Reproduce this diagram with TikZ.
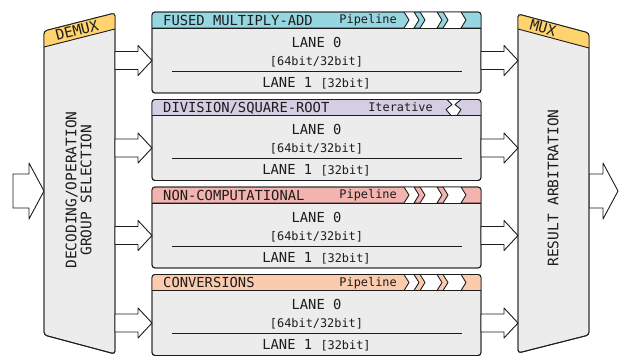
\documentclass[tikz,border=0pt]{standalone}
\usepackage{fontspec}
\setmonofont{DejaVu Sans Mono}
\usetikzlibrary{calc}

\definecolor{fmacol}{HTML}{96D6E0}
\definecolor{divcol}{HTML}{D5CEE3}
\definecolor{ncpcol}{HTML}{F3B3AF}
\definecolor{cvtcol}{HTML}{FCCBAE}
\definecolor{muxcol}{HTML}{FFD46E}
\definecolor{bodycol}{HTML}{ECECEC}
\definecolor{inkcol}{HTML}{1C1C1C}
\newcommand\widthsize{\fontsize{11.9pt}{13pt}\selectfont}

\begin{document}
\begin{tikzpicture}[x=1pt, y=-1pt,
every node/.style={inner sep=0pt, text=inkcol},
outline/.style={draw=inkcol, line width=0.9pt, line join=round},
bigfont/.style={font=\ttfamily\fontsize{14.5pt}{15pt}\selectfont},
titlefont/.style={font=\ttfamily\fontsize{13.8pt}{15pt}\selectfont},
smallfont/.style={font=\ttfamily\widthsize},
blockarr/.style n args={3}{outline, fill=white, to path={
    let \p1=(\tikztostart), \p2=(\tikztotarget) in
    (\x1,\y1+#1) -- (\x2-#3,\y1+#1) -- (\x2-#3,\y1+#2) -- (\x2,\y1)
    -- (\x2-#3,\y1-#2) -- (\x2-#3,\y1-#1) -- (\x1,\y1-#1) -- cycle}},
smallarr/.style={blockarr={9pt}{15pt}{14pt}},
bigarr/.style={blockarr={17pt}{28pt}{15pt}},
pipetail/.pic={
    \path[outline, fill=#1] (140,0) -- (404,0) -- (409,8) -- (404,16) -- (140,16) -- cycle;
    \foreach \cx in {414,437}
        \path[outline, fill=#1] (\cx,0) -- (\cx+6,0) -- (\cx+11,8) -- (\cx+6,16)
            -- (\cx,16) -- (\cx+5,8) -- cycle;
    \path[outline, fill=#1] (461,0) -- (495,0) -- (495,16) -- (461,16) -- (466,8) -- cycle;
    \node[smallfont, anchor=base east] (mode) at (397,11.5) {Pipeline};
},
itertail/.pic={
    \path[outline, fill=#1] (140,0) -- (447,0) -- (452,5) -- (446,10) -- (451,16) -- (140,16) -- cycle;
    \path[outline, fill=#1] (461,0) -- (495,0) -- (495,16) -- (457,16) -- (461,10) -- (455,5) -- cycle;
    \node[smallfont, anchor=base east] (mode) at (433,11.5) {Iterative};
}
]
\useasboundingbox (0,0) rectangle (619,357);

% anchor points of the big blocks
\coordinate (dmx-e) at (115,0);
\coordinate (mux-w) at (518,0);
\coordinate (fpu-in) at (13,191);
\coordinate (dmx-w) at (44,191);
\coordinate (mux-e) at (589,191);
\coordinate (fpu-out) at (618,191);

\draw[bigarr] (fpu-in) to (dmx-w);
\draw[bigarr] (mux-e) to (fpu-out);

% demux
\path[outline, fill=bodycol, rounded corners=3pt] (44,31) -- (115,13) -- (115,354) -- (44,335) -- cycle;
\begin{scope}
    \clip[rounded corners=3pt] (44,31) -- (115,13) -- (115,354) -- (44,335) -- cycle;
    \fill[muxcol] (40,48) -- (120,27.7) -- (120,0) -- (40,0) -- cycle;
\end{scope}
\draw[outline] (44,47) -- (115,29);
\draw[outline, rounded corners=3pt] (44,31) -- (115,13) -- (115,354) -- (44,335) -- cycle;
\node[bigfont, rotate=14] (dmx-title) at (77,30.5) {DEMUX};
\node[bigfont, rotate=90, align=center] (dmx-txt) at (78.5,190) {DECODING/OPERATION\\GROUP SELECTION};

% mux
\path[outline, fill=bodycol, rounded corners=3pt] (518,14) -- (589,33) -- (589,335) -- (518,353) -- cycle;
\begin{scope}
    \clip[rounded corners=3pt] (518,14) -- (589,33) -- (589,335) -- (518,353) -- cycle;
    \fill[muxcol] (514,28) -- (593,49) -- (593,0) -- (514,0) -- cycle;
\end{scope}
\draw[outline] (518,29) -- (589,48);
\draw[outline, rounded corners=3pt] (518,14) -- (589,33) -- (589,335) -- (518,353) -- cycle;
\node[bigfont, rotate=-15] (mux-title) at (543,28) {MUX};
\node[bigfont, rotate=90] (mux-txt) at (553,188) {RESULT ARBITRATION};

% functional units
\foreach \u/\uy/\ucol/\kind/\ttl in {fma/12/fmacol/1/{FUSED MULTIPLY-ADD},
        dsq/99.5/divcol/0/{DIVISION/SQUARE-ROOT},
        ncp/187/ncpcol/1/{NON-COMPUTATIONAL},
        cvt/274.5/cvtcol/1/{CONVERSIONS}}{
    \path[outline, fill=bodycol, rounded corners=3pt] (152,\uy) rectangle (481,\uy+81);
    \begin{scope}
        \clip[rounded corners=3pt] (152,\uy) rectangle (481,\uy+81);
        \fill[white] (152,\uy) rectangle (481,\uy+16);
        \ifnum\kind=1
            \pic (\u-) at (0,\uy) {pipetail=\ucol};
        \else
            \pic (\u-) at (0,\uy) {itertail=\ucol};
        \fi
    \end{scope}
    \draw[outline, rounded corners=3pt] (152,\uy) rectangle (481,\uy+81);
    \draw[outline] (152,\uy+16) -- (481,\uy+16);
    \node[titlefont, anchor=base west] (\u-title) at (163,\uy+13) {\ttl};
    \node[titlefont, anchor=base] (\u-l0) at (316.5,\uy+35) {LANE 0};
    \node[smallfont, anchor=base] (\u-w0) at (316.5,\uy+53) {[64bit/32bit]};
    \draw[draw=inkcol, line width=0.8pt] (172,\uy+59) -- (462,\uy+59);
    \node[titlefont, anchor=base] (\u-l1) at (316.5,\uy+75) {LANE 1 {\widthsize[32bit]}};
    \coordinate (\u-w) at (152,\uy+48.5);
    \coordinate (\u-e) at (481,\uy+48.5);
    \draw[smallarr] (\u-w -| dmx-e) to (\u-w);
    \draw[smallarr] (\u-e) to (\u-e -| mux-w);
}
\end{tikzpicture}
\end{document}
